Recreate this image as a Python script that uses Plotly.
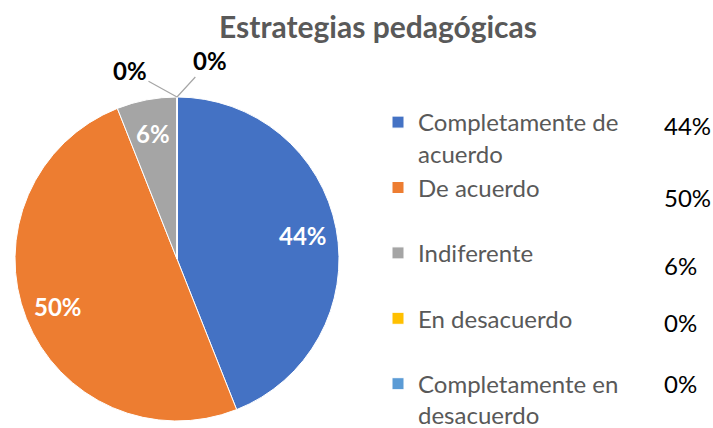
import math
import plotly.graph_objects as go

# datos
categorias = ["Completamente de<br>acuerdo", "De acuerdo<br> ", "Indiferente<br> ",
              "En desacuerdo<br> ", "Completamente en<br>desacuerdo"]
valores = [44, 50, 6, 0, 0]
etiquetas_pct = ["44%", "50%", "6%", "0%", "0%"]
colores = ["#4472C4", "#ED7D31", "#A5A5A5", "#FFC000", "#5B9BD5"]

W, H = 713, 428
cx, cy, r = 177, 259, 162   # centro y radio del pastel en pixeles

fig = go.Figure()
fig.add_trace(go.Pie(
    labels=categorias,
    values=valores,
    textinfo="none",
    marker=dict(colors=colores, line=dict(color="white", width=1)),
    sort=False,
    direction="clockwise",
    rotation=0,
    domain=dict(x=[(cx - r) / W, (cx + r) / W], y=[(H - cy - r) / H, (H - cy + r) / H]),
    hoverinfo="label+percent",
))

annots = []
# etiquetas dentro de las porciones, en el angulo medio de cada una
total = sum(valores)
acum = 0
for v, txt in zip(valores, etiquetas_pct):
    if v > 0:
        ang = (acum + v / 2) / total * 2 * math.pi
        px = cx + 0.79 * r * math.sin(ang)
        py = cy - 0.79 * r * math.cos(ang)
        annots.append(dict(x=px / W, y=1 - py / H, xref="paper", yref="paper",
                           xanchor="center", yanchor="middle",
                           showarrow=False, text="<b>" + txt + "</b>",
                           font=dict(family="Lato", size=24, color="white")))
    acum += v

# columna de porcentajes junto a la leyenda
pct_y = [125, 197, 265, 322, 383]
for txt, py in zip(etiquetas_pct, pct_y):
    annots.append(dict(x=662 / W, y=1 - py / H, xref="paper", yref="paper",
                       xanchor="left", yanchor="middle", showarrow=False,
                       text=txt, font=dict(family="Lato", size=24, color="black")))

# etiquetas 0% de las porciones vacias
top_x, top_y = cx / W, 1 - (cy - r) / H
annots.append(dict(x=top_x, y=top_y, xref="paper", yref="paper", ax=-47, ay=-26,
                   text="<b>0%</b>", showarrow=True, arrowhead=0, arrowwidth=1.2,
                   arrowcolor="#A6A6A6", font=dict(family="Lato", size=24, color="black")))
annots.append(dict(x=top_x, y=top_y, xref="paper", yref="paper", ax=33, ay=-36,
                   text="<b>0%</b>", showarrow=True, arrowhead=0, arrowwidth=1.2,
                   arrowcolor="#A6A6A6", font=dict(family="Lato", size=24, color="black")))

fig.update_layout(
    width=W, height=H,
    margin=dict(l=0, r=0, t=0, b=0, autoexpand=False),
    paper_bgcolor="white",
    title=dict(text="<b>Estrategias pedagógicas</b>", x=378 / W, xanchor="center",
               y=1 - 27 / H, yanchor="middle",
               font=dict(family="Lato", size=30, color="#595959")),
    legend=dict(x=378 / W, y=1 - 100 / H, xanchor="left", yanchor="top",
                font=dict(family="Lato", size=24, color="#595959"),
                valign="top", bgcolor="rgba(0,0,0,0)"),
    annotations=annots,
)

fig.write_html("out.html", config={"displayModeBar": False},
               post_script="document.body.style.margin='0';")
